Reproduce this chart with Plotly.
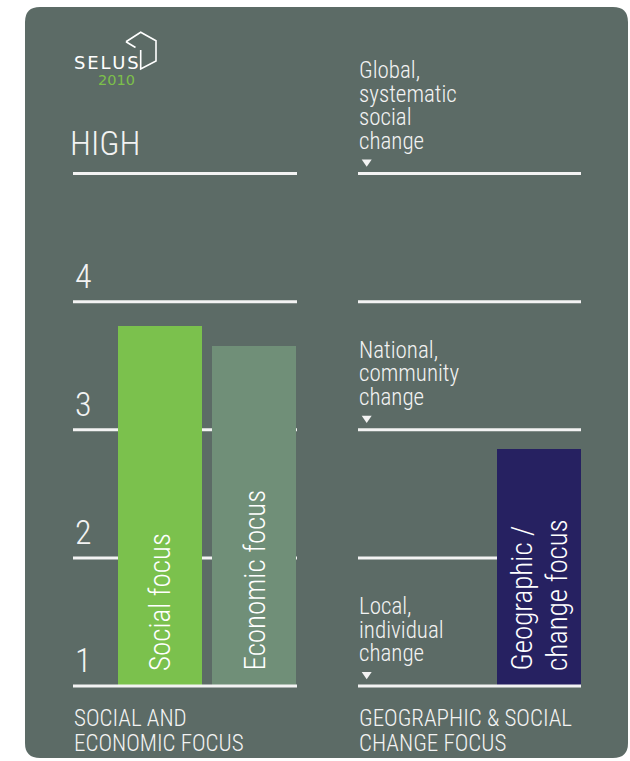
import plotly.graph_objects as go

# ---- data -------------------------------------------------------------
FOCUS_CATEGORIES = ["Social focus", "Economic focus"]
FOCUS_SCORES = [3.81, 3.65]

CHANGE_CATEGORIES = ["Geographic /<br>change focus"]
CHANGE_SCORES = [2.85]

LEVELS = [1, 2, 3, 4, 5]
LEVEL_LABELS = ["1", "2", "3", "4", "HIGH"]

SCOPE_LEVELS = [5, 3, 1]
SCOPE_LABELS = [
    ["Global,", "systematic", "social", "change"],
    ["National,", "community", "change"],
    ["Local,", "individual", "change"],
]

PANEL_TITLES = [
    ["SOCIAL AND", "ECONOMIC FOCUS"],
    ["GEOGRAPHIC & SOCIAL", "CHANGE FOCUS"],
]

# ---- styling ----------------------------------------------------------
W, H = 630, 761
PANEL = "#5c6b66"
GREEN = "#7bc14d"
SAGE = "#708f78"
NAVY = "#262161"
INK = "#f3f3f3"
NARROW = "Roboto Condensed, DejaVu Sans Condensed, sans-serif"
LOGO_FONT = "DejaVu Sans, Open Sans, sans-serif"

BASE = 1                       # bars rise from the lowest level
LVL_LO_PX, LVL_HI_PX = 686, 173.5
UNIT = (LVL_LO_PX - LVL_HI_PX) / (LEVELS[-1] - LEVELS[0])
Y_RANGE = [LEVELS[0] - (H - LVL_LO_PX) / UNIT, LEVELS[-1] + LVL_HI_PX / UNIT]

LEFT = (73, 297)
RIGHT = (358, 581)
STEP, BAR_W = 94, 84
LEFT_FIRST_CENTER = 160
RIGHT_FIRST_CENTER = 539


def px(x):
    return x / W


def py(y):
    return 1 - y / H


def cat_range(span, first_center):
    return [(span[0] - first_center) / STEP, (span[1] - first_center) / STEP]


def narrow(size, color=INK):
    return dict(family=NARROW, size=size, color=color, weight=300)


fig = go.Figure()

fig.add_trace(go.Bar(
    x=FOCUS_CATEGORIES, y=[s - BASE for s in FOCUS_SCORES], base=BASE,
    width=BAR_W / STEP, marker=dict(color=[GREEN, SAGE], line=dict(width=0)),
    xaxis="x", yaxis="y", hoverinfo="skip", showlegend=False,
))
fig.add_trace(go.Bar(
    x=CHANGE_CATEGORIES, y=[s - BASE for s in CHANGE_SCORES], base=BASE,
    width=BAR_W / STEP, marker=dict(color=[NAVY], line=dict(width=0)),
    xaxis="x2", yaxis="y", hoverinfo="skip", showlegend=False,
))

shapes = []
annotations = []

# rounded background panel
x0, y0, x1, y1, r = 25, 7, 628, 758, 15
pts = [
    ("M", x0 + r, y0), ("L", x1 - r, y0), ("Q", x1, y0, x1, y0 + r),
    ("L", x1, y1 - r), ("Q", x1, y1, x1 - r, y1), ("L", x0 + r, y1),
    ("Q", x0, y1, x0, y1 - r), ("L", x0, y0 + r), ("Q", x0, y0, x0 + r, y0),
]
path = ""
for p in pts:
    cmd, coords = p[0], p[1:]
    pairs = [f"{px(coords[i]):.5f},{py(coords[i + 1]):.5f}" for i in range(0, len(coords), 2)]
    path += cmd + " ".join(pairs) + " "
shapes.append(dict(type="path", path=path + "Z", xref="paper", yref="paper",
                   fillcolor=PANEL, line=dict(width=0), layer="below"))

# level rules on both panels
for lvl in LEVELS:
    for span in (LEFT, RIGHT):
        shapes.append(dict(
            type="line", xref="paper", yref="y",
            x0=px(span[0]), x1=px(span[1]), y0=lvl, y1=lvl,
            line=dict(color=INK, width=3),
            layer="above" if lvl == BASE else "below",
        ))

# level labels on the left
for lvl, lab in zip(LEVELS, LEVEL_LABELS):
    big = lab == "HIGH"
    annotations.append(dict(
        text=lab, xref="paper", yref="y", x=px(67.5 if big else 72.5), y=lvl,
        xanchor="left", yanchor="middle", yshift=31 if big else 25.6,
        showarrow=False, font=narrow(34),
    ))

# scope labels with pointer triangles on the right
for lvl, lines in zip(SCOPE_LEVELS, SCOPE_LABELS):
    n = len(lines)
    for i, line in enumerate(lines):
        annotations.append(dict(
            text=line, xref="paper", yref="y", x=px(356.5), y=lvl,
            xanchor="left", yanchor="middle", yshift=32.4 + (n - 1 - i) * 23.5,
            showarrow=False, font=narrow(23),
        ))
    shapes.append(dict(
        type="path", xref="paper", yref="y", xsizemode="pixel", ysizemode="pixel",
        xanchor=px(366.7), yanchor=lvl, path="M -5,14 L 5,14 L 0,6.8 Z",
        fillcolor=INK, line=dict(width=0),
    ))

# rotated bar names
for axis, cats in (("x", FOCUS_CATEGORIES), ("x2", CHANGE_CATEGORIES)):
    for cat in cats:
        parts = cat.split("<br>")
        n = len(parts)
        for i, part in enumerate(parts):
            annotations.append(dict(
                text=part, xref=axis, yref="y", x=cat, y=BASE,
                xanchor="center", yanchor="bottom", textangle=-90,
                xshift=(i - (n - 1) / 2) * 36, yshift=13,
                showarrow=False, font=narrow(29, "#ffffff"),
            ))

# panel titles below the baseline
for span, lines in zip((LEFT, RIGHT), PANEL_TITLES):
    for i, line in enumerate(lines):
        annotations.append(dict(
            text=line, xref="paper", yref="paper", x=px(span[0] - 1),
            y=py(718.5 + i * 24.5), xanchor="left", yanchor="middle",
            showarrow=False, font=narrow(23),
        ))

# logo
annotations.append(dict(
    text="S\u200aE\u200aL\u200aU\u200aS", xref="paper", yref="paper", x=px(72), y=py(62),
    xanchor="left", yanchor="middle", showarrow=False,
    font=dict(family=LOGO_FONT, size=18, color="#ffffff"),
))
annotations.append(dict(
    text="2010", xref="paper", yref="paper", x=px(136.5), y=py(80),
    xanchor="right", yanchor="middle", showarrow=False,
    font=dict(family=LOGO_FONT, size=14.5, color="#7cc04a"),
))
cube = [(126, 41.7), (140.7, 32.3), (156, 40.7), (156, 61), (140.7, 69), (140.7, 50)]
cube_path = "M" + " L".join(f"{px(a):.5f},{py(b):.5f}" for a, b in cube)
cube_path += f" M{px(126):.5f},{py(41.7):.5f} L{px(135.5):.5f},{py(47.5):.5f}"
shapes.append(dict(type="path", path=cube_path, xref="paper", yref="paper",
                   line=dict(color="#ffffff", width=1.6)))

fig.update_layout(
    width=W, height=H, margin=dict(l=0, r=0, t=0, b=0, pad=0),
    paper_bgcolor="#ffffff", plot_bgcolor="rgba(0,0,0,0)",
    barmode="overlay", bargap=0,
    xaxis=dict(domain=[px(LEFT[0]), px(LEFT[1])], type="category",
               range=cat_range(LEFT, LEFT_FIRST_CENTER), visible=False, fixedrange=True),
    xaxis2=dict(domain=[px(RIGHT[0]), px(RIGHT[1])], type="category", anchor="y",
                range=cat_range(RIGHT, RIGHT_FIRST_CENTER), visible=False, fixedrange=True),
    yaxis=dict(domain=[0, 1], range=Y_RANGE, visible=False, fixedrange=True),
    shapes=shapes, annotations=annotations,
)

fig.write_html("out.html", config={"displayModeBar": False})
